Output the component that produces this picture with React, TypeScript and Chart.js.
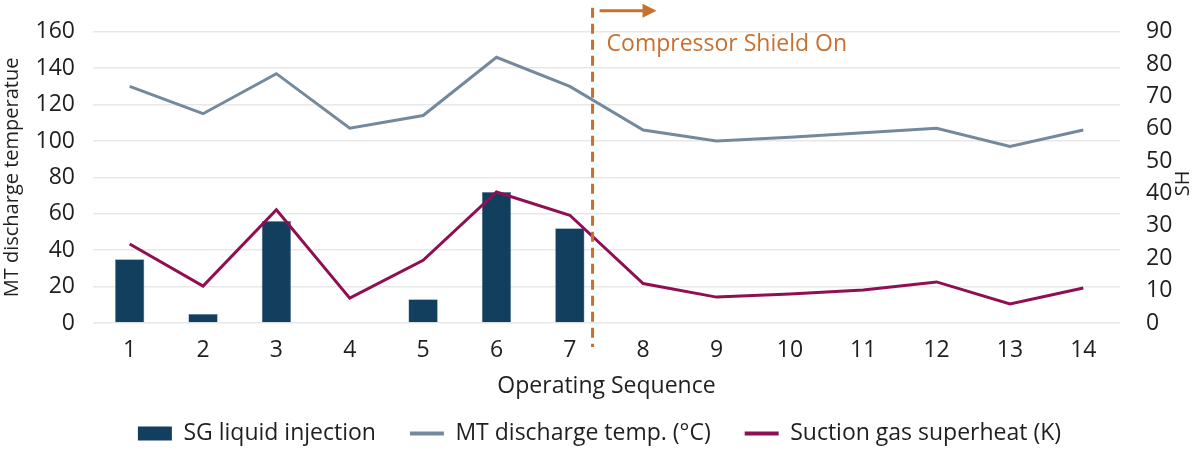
import { Chart, registerables } from 'chart.js';
import { useEffect, useRef } from 'react';

Chart.register(...registerables);

const sequence = ['1', '2', '3', '4', '5', '6', '7', '8', '9', '10', '11', '12', '13', '14'];
const liquidInjection = [35, 5, 56, null, 13, 72, 52, null, null, null, null, null, null, null];
const dischargeTemp = [130, 115, 137, 107, 114, 146, 130, 106, 100, 102, 104.5, 107, 97, 106];
const suctionSuperheat = [24.4, 11.4, 35, 7.7, 19.4, 40.5, 33.3, 12.2, 8, 9, 10.2, 12.7, 5.9, 10.8];
const leftTicks = [0, 20, 40, 60, 80, 100, 120, 140, 160];
const rightTicks = [0, 10, 20, 30, 40, 50, 60, 70, 80, 90];
// where the shield switches on, in category units (1 = first sequence)
const shieldOnAt = 7.31;

const FONT = '"Open Sans", "Noto Sans", sans-serif';
const TEXT = '#1F1F1F';
const BAR = '#133F5F';
const GREY = '#748A9C';
const WINE = '#8F0F52';
const ORANGE = '#C8702E';

const shieldMarker = {
    id: 'shieldMarker',
    afterDatasetsDraw(chart: Chart) {
        const { ctx, chartArea } = chart;
        const xs = chart.scales.x;
        const x = xs.getPixelForValue(shieldOnAt - 1);
        ctx.save();
        ctx.strokeStyle = ORANGE;
        ctx.lineWidth = 3;
        ctx.setLineDash([10, 6]);
        ctx.beginPath();
        ctx.moveTo(x, chartArea.top - 24);
        ctx.lineTo(x, chartArea.bottom + 24);
        ctx.stroke();
        ctx.setLineDash([]);
        // arrow
        const ay = chartArea.top - 21;
        ctx.lineWidth = 3;
        ctx.beginPath();
        ctx.moveTo(x + 7, ay);
        ctx.lineTo(x + 52, ay);
        ctx.stroke();
        ctx.fillStyle = ORANGE;
        ctx.beginPath();
        ctx.moveTo(x + 64, ay);
        ctx.lineTo(x + 50, ay - 7);
        ctx.lineTo(x + 50, ay + 7);
        ctx.closePath();
        ctx.fill();
        ctx.font = `23px ${FONT}`;
        ctx.textBaseline = 'middle';
        ctx.textAlign = 'left';
        ctx.fillText('Compressor Shield On', x + 14, chartArea.top + 13);
        // right axis title, reading bottom to top
        ctx.fillStyle = TEXT;
        ctx.font = `20px ${FONT}`;
        ctx.translate(1183, (chartArea.top + chartArea.bottom) / 2 + 6);
        ctx.rotate(-Math.PI / 2);
        ctx.textAlign = 'center';
        ctx.fillText('SH', 0, 0);
        ctx.restore();
    }
};

function App() {
    const canvasRef = useRef<HTMLCanvasElement>(null);
    const chartRef = useRef<Chart | null>(null);

    useEffect(() => {
        document.body.style.margin = '0';
        if (!canvasRef.current) return;
        const ctx = canvasRef.current.getContext('2d');
        if (!ctx) return;
        if (chartRef.current) chartRef.current.destroy();

        chartRef.current = new Chart(ctx, {
            type: 'bar',
            data: {
                labels: sequence,
                datasets: [
                    {
                        type: 'line',
                        label: 'MT discharge temp. (°C)',
                        data: dischargeTemp,
                        borderColor: GREY,
                        backgroundColor: GREY,
                        borderWidth: 3,
                        pointRadius: 0,
                        tension: 0,
                        yAxisID: 'y',
                        order: 1
                    },
                    {
                        type: 'line',
                        label: 'Suction gas superheat (K)',
                        data: suctionSuperheat,
                        borderColor: WINE,
                        backgroundColor: WINE,
                        borderWidth: 3,
                        pointRadius: 0,
                        tension: 0,
                        yAxisID: 'y1',
                        order: 0
                    },
                    {
                        type: 'bar',
                        label: 'SG liquid injection',
                        data: liquidInjection,
                        backgroundColor: BAR,
                        borderColor: '#6F8BA3',
                        borderWidth: 0.6,
                        barPercentage: 0.4,
                        categoryPercentage: 1,
                        yAxisID: 'y',
                        order: 2
                    }
                ]
            },
            plugins: [shieldMarker],
            options: {
                animation: false,
                responsive: true,
                maintainAspectRatio: false,
                layout: { padding: { top: 29, left: 0, right: 0, bottom: -3 } },
                plugins: {
                    tooltip: { enabled: false },
                    legend: {
                        position: 'bottom',
                        labels: {
                            font: { family: FONT, size: 23 },
                            color: TEXT,
                            usePointStyle: true,
                            pointStyleWidth: 34,
                            boxHeight: 14,
                            padding: 34,
                            sort: (a, b) => {
                                const rank = [1, 2, 0];
                                return rank[a.datasetIndex ?? 0] - rank[b.datasetIndex ?? 0];
                            },
                            generateLabels: (chart) =>
                                chart.data.datasets.map((ds, i) => {
                                    const isBar = (ds as { type?: string }).type === 'bar';
                                    const color = isBar ? BAR : (ds.borderColor as string);
                                    return {
                                        text: ds.label ?? '',
                                        datasetIndex: i,
                                        fillStyle: color,
                                        strokeStyle: color,
                                        lineWidth: isBar ? 0 : 4,
                                        pointStyle: isBar ? 'rect' : 'line',
                                        fontColor: TEXT,
                                        hidden: false
                                    };
                                })
                        }
                    }
                },
                scales: {
                    x: {
                        afterFit: (s) => { s.height = 65; },
                        grid: { display: false },
                        border: { display: false },
                        ticks: { font: { family: FONT, size: 23 }, color: TEXT, padding: 6 },
                        title: {
                            display: true,
                            text: 'Operating Sequence',
                            font: { family: FONT, size: 23 },
                            color: TEXT,
                            padding: { top: 6, bottom: -12 }
                        }
                    },
                    y: {
                        position: 'left',
                        min: 0,
                        max: 160,
                        afterBuildTicks: (s) => { s.ticks = leftTicks.map((v) => ({ value: v })); },
                        afterFit: (s) => { s.width = 93; },
                        grid: { color: '#E8E8E8', lineWidth: 1.5, drawTicks: false },
                        border: { display: false },
                        ticks: { font: { family: FONT, size: 23 }, color: TEXT, padding: 18 },
                        title: {
                            display: true,
                            text: 'MT discharge temperatue',
                            font: { family: FONT, size: 20 },
                            color: TEXT,
                            padding: { top: 0, bottom: 0 }
                        }
                    },
                    y1: {
                        position: 'right',
                        min: 0,
                        max: 90,
                        afterBuildTicks: (s) => { s.ticks = rightTicks.map((v) => ({ value: v })); },
                        afterFit: (s) => { s.width = 79; },
                        grid: { display: false },
                        border: { display: false },
                        ticks: { font: { family: FONT, size: 23 }, color: TEXT, padding: 18 }
                    }
                }
            }
        });

        return () => {
            if (chartRef.current) {
                chartRef.current.destroy();
                chartRef.current = null;
            }
        };
    }, []);

    return (
        <div style={{ width: 1199, height: 452, position: 'relative' }}>
            <canvas ref={canvasRef} />
        </div>
    );
}

export default App;
